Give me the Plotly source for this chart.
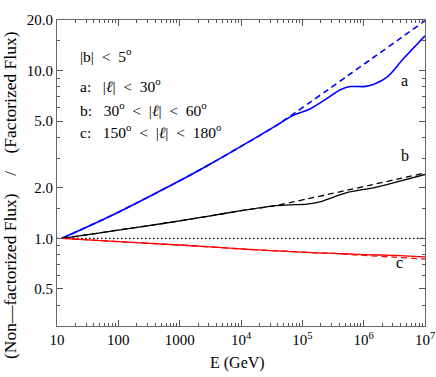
import plotly.graph_objects as go
import numpy as np

# curve a: |l| < 30  (solid = non-factorized, dashed = factorized approximation)
energy_a = [12, 32, 100, 316, 1000, 3160, 1e4, 3.8e4, 7.1e4, 1.33e5, 2.5e5, 4.1e5, 6e5, 1e6, 1.44e6, 2.4e6, 4.4e6, 1e7]
ratio_a = [1.0, 1.174, 1.43, 1.77, 2.20, 2.77, 3.53, 4.71, 5.4, 5.9, 6.8, 7.66, 8.02, 8.02, 8.25, 9.12, 11.7, 16.1]
energy_a_fact = [12, 32, 100, 316, 1000, 3160, 1e4, 3.8e4, 1e7]
ratio_a_fact = [1.0, 1.174, 1.43, 1.77, 2.20, 2.77, 3.53, 4.71, 19.8]

# curve b: 30 < |l| < 60
energy_b = [12, 32, 100, 316, 1000, 3160, 1e4, 3.4e4, 6.3e4, 1.18e5, 1.94e5, 5.3e5, 1.44e6, 3.5e6, 1e7]
ratio_b = [1.0, 1.05, 1.12, 1.19, 1.27, 1.36, 1.46, 1.56, 1.58, 1.60, 1.65, 1.87, 2.0, 2.17, 2.40]
energy_b_fact = [12, 32, 100, 316, 1000, 3160, 1e4, 3.4e4, 1e7]
ratio_b_fact = [1.0, 1.05, 1.12, 1.19, 1.27, 1.36, 1.46, 1.56, 2.45]

# curve c: 150 < |l| < 180
energy_c = [12, 100, 1000, 1e4, 1e5, 3.16e5, 1e6, 3.16e6, 1e7]
ratio_c = [1.0, 0.955, 0.912, 0.864, 0.826, 0.812, 0.80, 0.79, 0.775]
ratio_c_fact = [1.0, 0.955, 0.912, 0.864, 0.826, 0.812, 0.79, 0.772, 0.752]

x_ticks = [10, 100, 1000, 1e4, 1e5, 1e6, 1e7]
x_labels = ["10", "100", "1000", "10<sup>4</sup>", "10<sup>5</sup>", "10<sup>6</sup>", "10<sup>7</sup>"]
y_ticks = [0.5, 1.0, 2.0, 5.0, 10.0, 20.0]
y_labels = ["0.5", "1.0", "2.0", "5.0", "10.0", "20.0"]
y_minor = [0.3, 0.4, 0.6, 0.7, 0.8, 0.9, 1.5, 3, 4, 6, 7, 8, 9, 15]
x_minor = [m * 10 ** d for d in range(1, 7) for m in range(2, 10)]

sp = "&nbsp;"
lt = sp * 2 + "<" + sp * 2
notes = ["|b|" + lt + "5<sup>o</sup>",
         "a:" + sp * 3 + "|<i>\u2113</i>|" + lt + "30<sup>o</sup>",
         "b:" + sp * 3 + "30<sup>o</sup>" + lt + "|<i>\u2113</i>|" + lt + "60<sup>o</sup>",
         "c:" + sp * 3 + "150<sup>o</sup>" + lt + "|<i>\u2113</i>|" + lt + "180<sup>o</sup>"]
curve_labels = ["a", "b", "c"]
x_title = "E (GeV)"
y_title = "(Non\u2014factorized Flux)" + sp * 4 + "/" + sp * 4 + "(Factorized Flux)"

FONT = "Liberation Serif, Times New Roman, DejaVu Serif, serif"
BLUE = "#0000ff"
RED = "#ff0000"

fig = go.Figure()

# reference line at ratio = 1
fig.add_trace(go.Scatter(x=[10, 1e7], y=[1, 1], mode="lines",
                         line=dict(color="black", width=1.3, dash="1.5px,2.5px")))

fig.add_trace(go.Scatter(x=energy_a_fact, y=ratio_a_fact, mode="lines",
                         line=dict(color=BLUE, width=1.6, dash="6px,4px", shape="spline", smoothing=0.6)))
fig.add_trace(go.Scatter(x=energy_a, y=ratio_a, mode="lines",
                         line=dict(color=BLUE, width=1.6, shape="spline", smoothing=0.8)))
fig.add_trace(go.Scatter(x=energy_b_fact, y=ratio_b_fact, mode="lines",
                         line=dict(color="black", width=1.3, dash="6px,4px", shape="spline", smoothing=0.6)))
fig.add_trace(go.Scatter(x=energy_b, y=ratio_b, mode="lines",
                         line=dict(color="black", width=1.3, shape="spline", smoothing=0.8)))
fig.add_trace(go.Scatter(x=energy_c, y=ratio_c_fact, mode="lines",
                         line=dict(color=RED, width=1.3, dash="6px,4px", shape="spline", smoothing=0.6)))
fig.add_trace(go.Scatter(x=energy_c, y=ratio_c, mode="lines",
                         line=dict(color=RED, width=1.3, shape="spline", smoothing=0.6)))

axis_common = dict(type="log", showgrid=False, zeroline=False, mirror="allticks", automargin=False,
                   ticks="inside", ticklen=6, tickwidth=1, tickcolor="#555",
                   showline=True, linecolor="#666", linewidth=1.2,
                   tickfont=dict(family=FONT, size=15, color="black"))

fig.update_xaxes(**axis_common, range=[1, 7], tickmode="array", tickvals=x_ticks, ticktext=x_labels,
                 minor=dict(tickmode="array", tickvals=x_minor, ticks="inside", ticklen=3,
                            tickcolor="#555", showgrid=False))
fig.update_yaxes(**axis_common, range=[np.log10(0.3), np.log10(20)], tickmode="array",
                 tickvals=y_ticks, ticktext=y_labels,
                 minor=dict(tickmode="array", tickvals=y_minor, ticks="inside", ticklen=3,
                            tickcolor="#555", showgrid=False))

# axis titles
fig.add_annotation(xref="paper", yref="paper", x=0.49, y=0, yshift=-37, text=x_title, showarrow=False,
                   yanchor="middle", font=dict(family=FONT, size=16, color="black"))
fig.add_annotation(xref="paper", yref="paper", x=0, xshift=-47, y=0.428, text=y_title, showarrow=False,
                   textangle=-90, xanchor="center", yanchor="middle",
                   font=dict(family=FONT, size=17.5, color="black"))

for text, yp in zip(notes, [0.925, 0.827, 0.748, 0.676]):
    fig.add_annotation(xref="paper", yref="paper", x=0.057, y=yp, text=text, showarrow=False,
                       xanchor="left", font=dict(family=FONT, size=15.5, color="black"))

for lbl, xp, yp in zip(curve_labels, [0.959, 0.962, 0.946], [0.837, 0.556, 0.173]):
    fig.add_annotation(xref="paper", yref="paper", x=xp, y=yp, text=lbl, showarrow=False,
                       font=dict(family=FONT, size=16, color="black"))

fig.update_layout(width=436, height=377, margin=dict(l=57, r=11, t=20, b=51),
                  paper_bgcolor="white", plot_bgcolor="white", showlegend=False)

# default page body has an 8px margin; drop it so the figure sits at the window corner
fig.write_html("out.html", config={"displayModeBar": False},
               post_script="document.body.style.margin='0';")
